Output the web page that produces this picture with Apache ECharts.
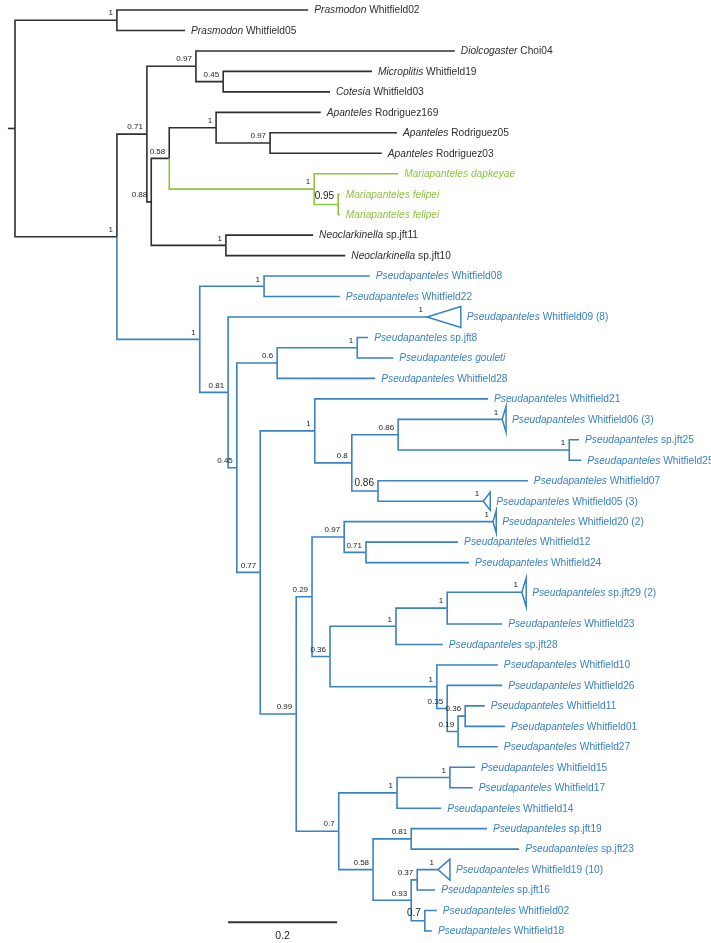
<!DOCTYPE html>
<html><head><meta charset="utf-8">
<script src="https://cdn.jsdelivr.net/npm/echarts@6/dist/echarts.min.js"></script>
<style>html,body{margin:0;padding:0;background:#fff}#c{width:711px;height:943px}</style>
</head><body><div id="c"></div>
<script>
// Internal nodes: parent node, depth from root (substitutions/site), posterior support, clade (0 outgroup,1 Mariapanteles,2 Pseudapanteles)
const nodeParent  = [-1,0,0,2,3,4,3,6,7,8,7,10,6,2,13,13,15,16,17,16,19,20,21,22,21,19,25,26,27,26,29,30,29,32,33,34,25,36,37,36,39,39,41,41];
const nodeDepth   = [0,0.187,0.187,0.242,0.332,0.382,0.250,0.283,0.369,0.468,0.549,0.593,0.387,0.339,0.457,0.391,0.407,0.481,0.628,0.450,0.550,0.618,0.703,1.017,0.666,0.516,0.545,0.604,0.644,0.578,0.699,0.793,0.774,0.793,0.813,0.826,0.594,0.701,0.798,0.657,0.727,0.727,0.738,0.752];
const nodeSupport = ["","1","1","0.71","0.97","0.45","0.88","0.58","1","0.97","1","0.95","1","1","1","0.81","0.45","0.6","1","0.77","1","0.8","0.86","1","0.86","0.99","0.29","0.97","0.71","0.36","1","1","1","0.35","0.19","0.36","0.7","1","1","0.58","0.81","0.93","0.37","0.7"];
const nodeClade   = [0,0,0,0,0,0,0,0,0,0,1,1,0,2,2,2,2,2,2,2,2,2,2,2,2,2,2,2,2,2,2,2,2,2,2,2,2,2,2,2,2,2,2,2];

// Tips (top to bottom)
const leafGenus = ["Prasmodon","Prasmodon","Diolcogaster","Microplitis","Cotesia","Apanteles","Apanteles","Apanteles",
  "Mariapanteles dapkeyae","Mariapanteles felipei","Mariapanteles felipei","Neoclarkinella","Neoclarkinella",
  "Pseudapanteles","Pseudapanteles","Pseudapanteles","Pseudapanteles","Pseudapanteles gouleti","Pseudapanteles","Pseudapanteles",
  "Pseudapanteles","Pseudapanteles","Pseudapanteles","Pseudapanteles","Pseudapanteles","Pseudapanteles","Pseudapanteles",
  "Pseudapanteles","Pseudapanteles","Pseudapanteles","Pseudapanteles","Pseudapanteles","Pseudapanteles","Pseudapanteles",
  "Pseudapanteles","Pseudapanteles","Pseudapanteles","Pseudapanteles","Pseudapanteles","Pseudapanteles","Pseudapanteles",
  "Pseudapanteles","Pseudapanteles","Pseudapanteles","Pseudapanteles"];
const leafEpithet = ["Whitfield02","Whitfield05","Choi04","Whitfield19","Whitfield03","Rodriguez169","Rodriguez05","Rodriguez03",
  "","","","sp.jft11","sp.jft10",
  "Whitfield08","Whitfield22","Whitfield09 (8)","sp.jft8","","Whitfield28","Whitfield21",
  "Whitfield06 (3)","sp.jft25","Whitfield25","Whitfield07","Whitfield05 (3)","Whitfield20 (2)","Whitfield12",
  "Whitfield24","sp.jft29 (2)","Whitfield23","sp.jft28","Whitfield10","Whitfield26","Whitfield11",
  "Whitfield01","Whitfield27","Whitfield15","Whitfield17","Whitfield14","sp.jft19","sp.jft23",
  "Whitfield19 (10)","sp.jft16","Whitfield02","Whitfield18"];
const leafParent = [1,1,4,5,5,8,9,9,10,11,11,12,12,14,14,15,18,18,17,20,22,23,23,24,24,27,28,28,31,31,30,32,33,35,35,34,38,38,37,40,40,42,42,43,43];
const leafDepth  = [0.538,0.312,0.807,0.655,0.578,0.561,0.701,0.673,0.703,0.596,0.596,0.547,0.606,
  0.651,0.596,0.756,0.648,0.694,0.661,0.868,0.894,1.035,1.039,0.941,0.859,0.877,0.813,
  0.833,0.930,0.894,0.785,0.886,0.894,0.862,0.899,0.886,0.844,0.840,0.782,0.866,0.925,
  0.776,0.771,0.774,0.765];
const leafRow    = [0,1,2,3,4,5,6,7,8,9,10,11,12,13,14,15,16,17,18,19,20,21,22,23,24,25,26,27,28.45,
  30,31,32,33,34,35,36,37,38,39,40,41,42,43,44,45];
const leafClade  = [0,0,0,0,0,0,0,0,1,1,1,0,0,2,2,2,2,2,2,2,2,2,2,2,2,2,2,2,2,2,2,2,2,2,2,2,2,2,2,2,2,2,2,2,2];
// Collapsed clades (triangles): tip index, depth of triangle base, half height in rows
const collapsedTip   = [15,20,24,25,28,41];
const collapsedBase  = [0.818,0.901,0.872,0.883,0.938,0.798];
const collapsedHalf  = [0.51,0.63,0.44,0.54,0.71,0.51];
const collapsedSupport = ["1","1","1","1","1","1"];
// Scale bar
const scaleBarStart = 0.391, scaleBarLength = 0.2, scaleBarLabel = "0.2";

// ---------- LAYOUT ----------
const cladeColor = ['#2f2f2f', '#8dc63f', '#3a82c4'];
const FONT = "'Liberation Sans',Arial,Helvetica,sans-serif";

const nN = nodeParent.length;
const kids = Array.from({length:nN}, () => []);
leafParent.forEach((p,i) => kids[p].push({leaf:true, i}));
nodeParent.forEach((p,i) => { if (p >= 0) kids[p].push({leaf:false, i}); });
const nodeY = new Array(nN);
function yOf(c){ return c.leaf ? leafRow[c.i] : nodeYf(c.i); }
function nodeYf(i){
  if (nodeY[i] === undefined) {
    const ys = kids[i].map(yOf);
    nodeY[i] = (Math.min(...ys) + Math.max(...ys)) / 2;
  }
  return nodeY[i];
}
for (let i = 0; i < nN; i++) nodeYf(i);

// branches: [parentDepth, parentY, childY, childDepth, clade]
const branches = [];
branches.push([-0.013, nodeY[0], nodeY[0], 0, 0]); // root stub
for (let p = 0; p < nN; p++) {
  kids[p].forEach(c => {
    const cd = c.leaf ? leafDepth[c.i] : nodeDepth[c.i];
    const cc = c.leaf ? leafClade[c.i] : nodeClade[c.i];
    branches.push([nodeDepth[p], nodeY[p], yOf(c), cd, cc]);
  });
}
branches.sort((a,b) => a[4] - b[4]);

const triData = collapsedTip.map((t,k) => [leafDepth[t], leafRow[t], collapsedBase[k], collapsedHalf[k], leafClade[t]]);

const tipLabelData = leafDepth.map((d,i) => {
  const k = collapsedTip.indexOf(i);
  return [k >= 0 ? collapsedBase[k] : d, leafRow[i], leafClade[i]];
});

const supportData = [];
const supportText = [];
const bigSupport = {11:true, 24:true, 43:true};
const supportBig = [];
for (let i = 1; i < nN; i++) if (nodeSupport[i]) { supportData.push([nodeDepth[i], nodeY[i]]); supportText.push(nodeSupport[i]); supportBig.push(!!bigSupport[i]); }
collapsedTip.forEach((t,k) => { supportData.push([leafDepth[t], leafRow[t]]); supportText.push(collapsedSupport[k]); supportBig.push(false); });

const TIP_FS = 10.2;
const chart = echarts.init(document.getElementById('c'), null, {renderer:'canvas'});
chart.setOption({
  animation: false,
  backgroundColor: '#ffffff',
  grid: {left: 15, right: 42, top: 10, bottom: 12},
  xAxis: {type:'value', min:0, max:1.2, show:false},
  yAxis: {type:'value', min:0, max:45, inverse:true, show:false},
  series: [
    {
      type:'custom', clip:false, data: branches,
      renderItem(params, api){
        const a = api.coord([api.value(0), api.value(1)]);
        const b = api.coord([api.value(0), api.value(2)]);
        const c = api.coord([api.value(3), api.value(2)]);
        return {type:'polyline', shape:{points:[a,b,c]}, style:{stroke: cladeColor[api.value(4)], lineWidth:1.6, fill:null}};
      }
    },
    {
      type:'custom', clip:false, data: triData,
      renderItem(params, api){
        const apex = api.coord([api.value(0), api.value(1)]);
        const t = api.coord([api.value(2), api.value(1) - api.value(3)]);
        const b = api.coord([api.value(2), api.value(1) + api.value(3)]);
        return {type:'polygon', shape:{points:[apex,t,b]}, style:{stroke: cladeColor[api.value(4)], lineWidth:1.5, fill:null}};
      }
    },
    {
      type:'custom', clip:false, data: tipLabelData,
      renderItem(params, api){
        const i = params.dataIndex;
        const p = api.coord([api.value(0), api.value(1)]);
        const col = cladeColor[api.value(2)];
        const ep = leafEpithet[i];
        return {type:'text', x: p[0] + 6, y: p[1] + 0.5,
          style:{text: '{i|' + leafGenus[i] + '}' + (ep ? '{r| ' + ep + '}' : ''),
            fill: col, align:'left', verticalAlign:'middle', fontSize:TIP_FS, fontFamily:FONT,
            rich:{ i:{fontStyle:'italic', fontSize:TIP_FS, fontFamily:FONT, fill:col}, r:{fontSize:TIP_FS, fontFamily:FONT, fill:col} }}};
      }
    },
    {
      type:'custom', clip:false, data: supportData,
      renderItem(params, api){
        const i = params.dataIndex;
        const p = api.coord([api.value(0), api.value(1)]);
        const big = supportBig[i];
        return {type:'text', x: p[0] - 4, y: p[1] - 3,
          style:{text: supportText[i], fill:'#222', align:'right', verticalAlign:'bottom',
            fontSize: big ? 10 : 8, fontFamily: FONT}};
      }
    },
    {
      type:'custom', clip:false, data: [[scaleBarStart, 44.57, scaleBarStart + scaleBarLength]],
      renderItem(params, api){
        const a = api.coord([api.value(0), api.value(1)]);
        const b = api.coord([api.value(2), api.value(1)]);
        return {type:'group', children:[
          {type:'line', shape:{x1:a[0], y1:a[1], x2:b[0], y2:b[1]}, style:{stroke:'#333', lineWidth:2}},
          {type:'text', x:(a[0]+b[0])/2, y:a[1] + 8, style:{text: scaleBarLabel, fill:'#222', align:'center', verticalAlign:'top', fontSize:10.5, fontFamily:FONT}}
        ]};
      }
    }
  ]
});
</script></body></html>
